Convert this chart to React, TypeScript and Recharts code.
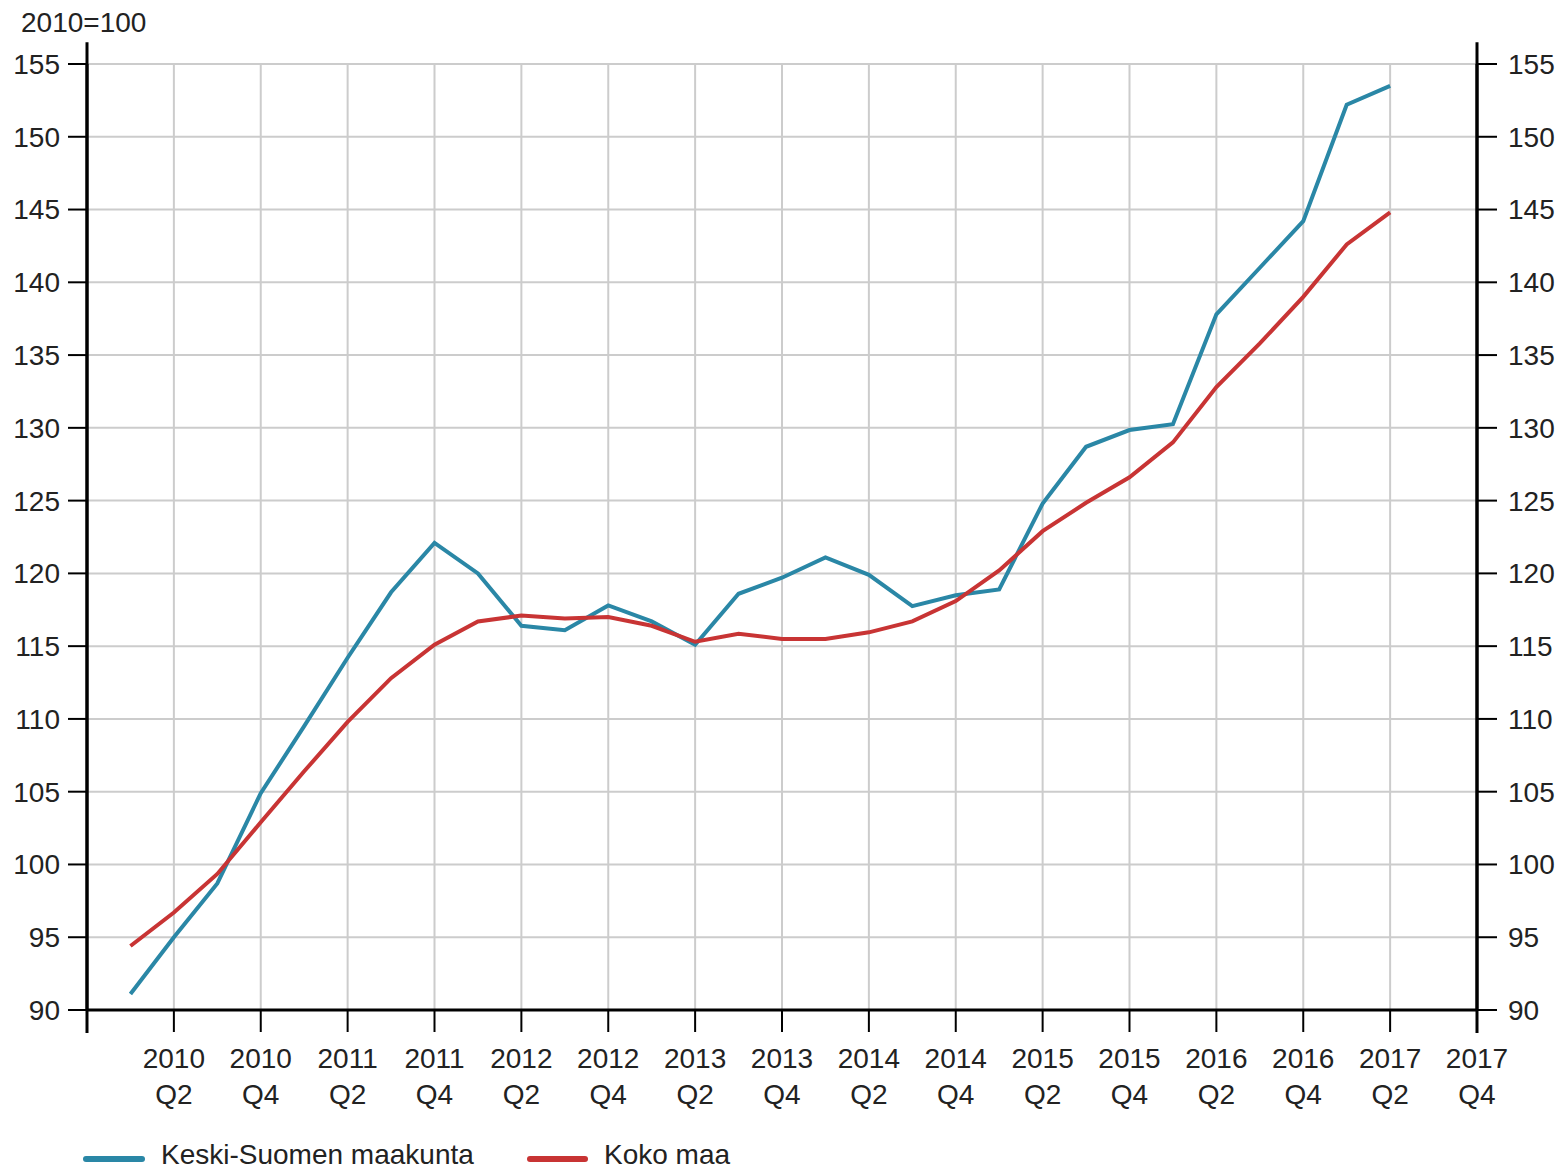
import React from "react";
import {
  LineChart,
  Line,
  XAxis,
  YAxis,
  CartesianGrid,
  ReferenceLine,
} from "recharts";

// 2010Q1 .. 2017Q2
const quarters = [
  "2010Q1", "2010Q2", "2010Q3", "2010Q4",
  "2011Q1", "2011Q2", "2011Q3", "2011Q4",
  "2012Q1", "2012Q2", "2012Q3", "2012Q4",
  "2013Q1", "2013Q2", "2013Q3", "2013Q4",
  "2014Q1", "2014Q2", "2014Q3", "2014Q4",
  "2015Q1", "2015Q2", "2015Q3", "2015Q4",
  "2016Q1", "2016Q2", "2016Q3", "2016Q4",
  "2017Q1", "2017Q2",
];

const keskiSuomi = [
  91.1, 95.0, 98.7, 104.9,
  109.5, 114.2, 118.7, 122.1,
  120.0, 116.4, 116.1, 117.8,
  116.7, 115.1, 118.6, 119.7,
  121.1, 119.9, 117.75, 118.5,
  118.9, 124.8, 128.7, 129.85,
  130.25, 137.8, 141.0, 144.2,
  152.2, 153.5,
];

const kokoMaa = [
  94.4, 96.7, 99.35, 102.9,
  106.4, 109.8, 112.8, 115.1,
  116.7, 117.1, 116.9, 117.0,
  116.4, 115.3, 115.85, 115.5,
  115.5, 115.95, 116.7, 118.1,
  120.2, 122.9, 124.85, 126.6,
  129.0, 132.8, 135.8, 139.0,
  142.6, 144.8,
];

// x tick positions (quarter index, 0 = 2010Q1) and their labels
const xTicks = [-1, 1, 3, 5, 7, 9, 11, 13, 15, 17, 19, 21, 23, 25, 27, 29, 31];
const xTickYears = ["", "2010", "2010", "2011", "2011", "2012", "2012", "2013", "2013", "2014", "2014", "2015", "2015", "2016", "2016", "2017", "2017"];
const xTickQuarters = ["", "Q2", "Q4", "Q2", "Q4", "Q2", "Q4", "Q2", "Q4", "Q2", "Q4", "Q2", "Q4", "Q2", "Q4", "Q2", "Q4"];

const yTicks = [90, 95, 100, 105, 110, 115, 120, 125, 130, 135, 140, 145, 150, 155];

const seriesNames = ["Keski-Suomen maakunta", "Koko maa"];
const unitLabel = "2010=100";

const BLUE = "#2a87a6";
const RED = "#c83434";
const FONT = "'Liberation Sans', Arial, Helvetica, sans-serif";
const TEXT = "#222222";

const data = quarters.map((q, i) => ({
  idx: i,
  quarter: q,
  keski: keskiSuomi[i],
  koko: kokoMaa[i],
}));

const XTick = (props: any) => {
  const { x, y, payload } = props;
  const k = xTicks.indexOf(payload.value);
  if (k < 0) return null;
  return (
    <g>
      <text x={x} y={y + 36} textAnchor="middle" fontSize={28} fontFamily={FONT} fill={TEXT}>
        {xTickYears[k]}
      </text>
      <text x={x} y={y + 72} textAnchor="middle" fontSize={28} fontFamily={FONT} fill={TEXT}>
        {xTickQuarters[k]}
      </text>
    </g>
  );
};

export default function App() {
  return (
    <div style={{ position: "absolute", left: 0, top: 0, width: 1559, height: 1172, background: "#ffffff", fontFamily: FONT }}>
      <LineChart
        width={1559}
        height={1172}
        data={data}
        margin={{ top: 64, right: 0, left: 0, bottom: 0 }}
      >
        <CartesianGrid yAxisId="left" stroke="#cccccc" strokeWidth={2} />
        <XAxis
          dataKey="idx"
          type="number"
          domain={[-1, 31]}
          ticks={xTicks}
          interval={0}
          height={162}
          allowDataOverflow
          axisLine={{ stroke: "#000000", strokeWidth: 3 }}
          tickLine={{ stroke: "#000000", strokeWidth: 2 }}
          tickSize={22}
          tickMargin={0}
          tick={<XTick />}
        />
        <YAxis
          yAxisId="left"
          orientation="left"
          width={87}
          domain={[90, 155]}
          ticks={yTicks}
          interval={0}
          allowDataOverflow
          axisLine={{ stroke: "#000000", strokeWidth: 3 }}
          tickLine={{ stroke: "#000000", strokeWidth: 2 }}
          tickSize={19}
          tickMargin={8}
          tick={{ fontSize: 28, fontFamily: FONT, fill: TEXT }}
        />
        <YAxis
          yAxisId="right"
          orientation="right"
          width={82}
          domain={[90, 155]}
          ticks={yTicks}
          interval={0}
          allowDataOverflow
          axisLine={{ stroke: "#000000", strokeWidth: 3 }}
          tickLine={{ stroke: "#000000", strokeWidth: 2 }}
          tickSize={20}
          tickMargin={11}
          tick={{ fontSize: 28, fontFamily: FONT, fill: TEXT }}
        />
        <ReferenceLine
          yAxisId="left"
          segment={[{ x: -1, y: 88.42 }, { x: -1, y: 156.5 }]}
          stroke="#000000"
          strokeWidth={3}
          ifOverflow="visible"
        />
        <ReferenceLine
          yAxisId="left"
          segment={[{ x: 31, y: 88.42 }, { x: 31, y: 156.5 }]}
          stroke="#000000"
          strokeWidth={3}
          ifOverflow="visible"
        />
        <Line
          yAxisId="left"
          type="linear"
          dataKey="keski"
          name={seriesNames[0]}
          stroke={BLUE}
          strokeWidth={4}
          dot={false}
          isAnimationActive={false}
        />
        <Line
          yAxisId="left"
          type="linear"
          dataKey="koko"
          name={seriesNames[1]}
          stroke={RED}
          strokeWidth={4}
          dot={false}
          isAnimationActive={false}
        />
      </LineChart>
      <svg
        width={1559}
        height={1172}
        style={{ position: "absolute", left: 0, top: 0, pointerEvents: "none" }}
      >
        <text x={21} y={32} fontSize={28} fontFamily={FONT} fill={TEXT}>
          {unitLabel}
        </text>
        <line x1={86} y1={1159} x2={142} y2={1159} stroke={BLUE} strokeWidth={6} strokeLinecap="round" />
        <text x={161} y={1164} fontSize={28} fontFamily={FONT} fill={TEXT}>
          {seriesNames[0]}
        </text>
        <line x1={530} y1={1159} x2={585} y2={1159} stroke={RED} strokeWidth={6} strokeLinecap="round" />
        <text x={604} y={1164} fontSize={28} fontFamily={FONT} fill={TEXT}>
          {seriesNames[1]}
        </text>
      </svg>
    </div>
  );
}
